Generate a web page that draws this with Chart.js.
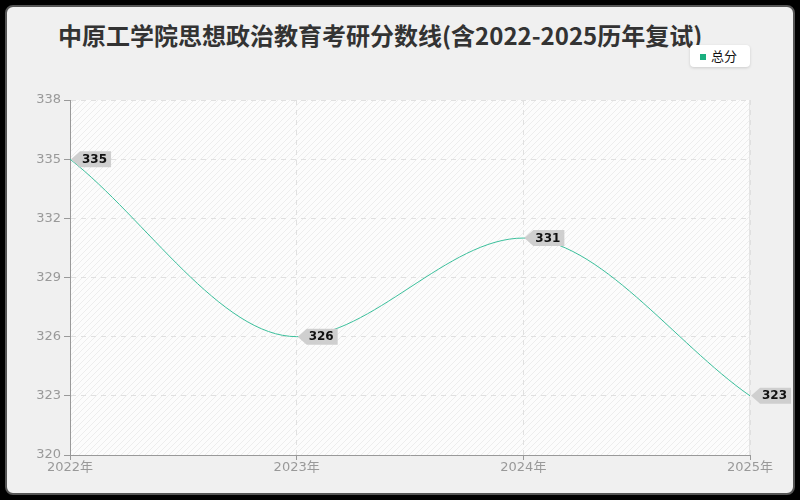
<!DOCTYPE html>
<html>
<head>
<meta charset="utf-8">
<script src="https://cdn.jsdelivr.net/npm/chart.js@4"></script>
<style>
  html, body { margin: 0; padding: 0; background: #000; }
  #wrap { position: relative; width: 800px; height: 500px; overflow: hidden; }
  #card { position: absolute; left: 5px; top: 5px; width: 786px; height: 486px;
          background: #f0f0f0; border: 2px solid #555; border-radius: 8px; }
  #title { position: absolute; left: 58px; top: 18px; font: bold 24px "Noto Sans CJK SC", "DejaVu Sans", sans-serif;
           color: #333; white-space: nowrap; line-height: 34px; }
  #legend { position: absolute; left: 690px; top: 45px; width: 60px; height: 22px; background: #fff;
            border-radius: 4px; box-shadow: 0 1px 3px rgba(0,0,0,0.15);
            font: 13px "Noto Sans CJK SC", sans-serif; color: #111; line-height: 22px; }
  #legend i { display: inline-block; width: 6px; height: 6px; margin: 0 5px 0 10px; vertical-align: 1px; }
  canvas { position: absolute; left: 0; top: 0; }
</style>
</head>
<body>
<div id="wrap">
  <div id="card"></div>
  <div id="title">中原工学院思想政治教育考研分数线(含2022-2025历年复试)</div>
  <div id="legend"></div>
  <canvas id="myChart" width="800" height="500"></canvas>
</div>
<script>
const years = ['2022年', '2023年', '2024年', '2025年'];
const scores = [335, 326, 331, 323];
const seriesName = '总分';
const yTicks = [320, 323, 326, 329, 332, 335, 338];

const lineColor = '#3bbf9b';
document.getElementById('legend').innerHTML = '<i style="background:#1aaf7f"></i>' + seriesName;

// hatched plot background
function makeHatch() {
	let c = document.createElement('canvas');
	c.width = 6; c.height = 6;
	let g = c.getContext('2d');
	g.fillStyle = '#fcfcfc';
	g.fillRect(0, 0, 6, 6);
	g.strokeStyle = 'rgba(0,0,0,0.06)';
	g.lineWidth = 1;
	g.beginPath();
	g.moveTo(0, 6); g.lineTo(6, 0);
	g.moveTo(-1, 1); g.lineTo(1, -1);
	g.moveTo(5, 7); g.lineTo(7, 5);
	g.stroke();
	return c;
}

const plotBg = {
	id: 'plotBg',
	beforeDraw(chart) {
		const { ctx, chartArea: a } = chart;
		ctx.save();
		ctx.fillStyle = ctx.createPattern(makeHatch(), 'repeat');
		ctx.fillRect(a.left, a.top, a.right - a.left, a.bottom - a.top);
		ctx.strokeStyle = '#e4e4e4';
		ctx.lineWidth = 1;
		ctx.beginPath();
		ctx.moveTo(a.right - 0.5, a.top); ctx.lineTo(a.right - 0.5, a.bottom);
		ctx.stroke();
		ctx.restore();
	}
};

// grey tag labels pointing at each point
const tagLabels = {
	id: 'tagLabels',
	afterDatasetsDraw(chart) {
		const ctx = chart.ctx;
		const meta = chart.getDatasetMeta(0);
		ctx.save();
		ctx.font = 'bold 12px "DejaVu Sans", sans-serif';
		meta.data.forEach((pt, i) => {
			let txt = String(chart.data.datasets[0].data[i]);
			let w = ctx.measureText(txt).width + 6;
			let x = pt.x + 1, y = pt.y;
			ctx.fillStyle = '#cfcfcf';
			ctx.beginPath();
			ctx.moveTo(x, y);
			ctx.lineTo(x + 9, y - 8);
			ctx.lineTo(x + 9 + w, y - 8);
			ctx.lineTo(x + 9 + w, y + 8);
			ctx.lineTo(x + 9, y + 8);
			ctx.closePath();
			ctx.fill();
			ctx.fillStyle = '#111';
			ctx.textBaseline = 'middle';
			ctx.fillText(txt, x + 11, y + 0.5);
		});
		ctx.restore();
	}
};

const canvas = document.getElementById('myChart').getContext('2d');

const config = {
	type: 'line',
	data: {
		labels: years,
		datasets: [
			{
				label: seriesName,
				data: scores,
				borderColor: lineColor,
				borderWidth: 1,
				pointRadius: 0,
				fill: false,
				cubicInterpolationMode: 'monotone',
			},
		],
	},
	options: {
		responsive: false,
		animation: false,
		layout: { padding: { top: 100, right: 50, left: 0, bottom: 0 } },
		plugins: {
			legend: { display: false },
			title: { display: false },
			tooltip: { enabled: false },
		},
		scales: {
			x: {
				offset: false,
				afterFit: (s) => { s.height = 45; },
				grid: {
					color: '#e0e0e0',
					tickColor: '#999',
					tickLength: 5,
					tickBorderDash: [],
				},
				border: { color: '#999', dash: [5, 5] },
				ticks: { color: '#999', font: { size: 13, family: '"DejaVu Sans", "Noto Sans CJK SC", sans-serif' }, padding: 0, maxRotation: 0 },
			},
			y: {
				min: 320,
				max: 338,
				afterFit: (s) => { s.width = 70; },
				afterBuildTicks: (s) => { s.ticks = yTicks.map(v => ({ value: v })); },
				grid: {
					color: '#e0e0e0',
					tickColor: '#999',
					tickLength: 6,
					tickBorderDash: [],
				},
				border: { color: '#999', dash: [5, 5] },
				ticks: { color: '#999', font: { size: 13, family: '"DejaVu Sans", sans-serif' }, padding: 3 },
			},
		},
	},
	plugins: [plotBg, tagLabels],
};

let myChart = new Chart(canvas, config);
</script>
</body>
</html>
